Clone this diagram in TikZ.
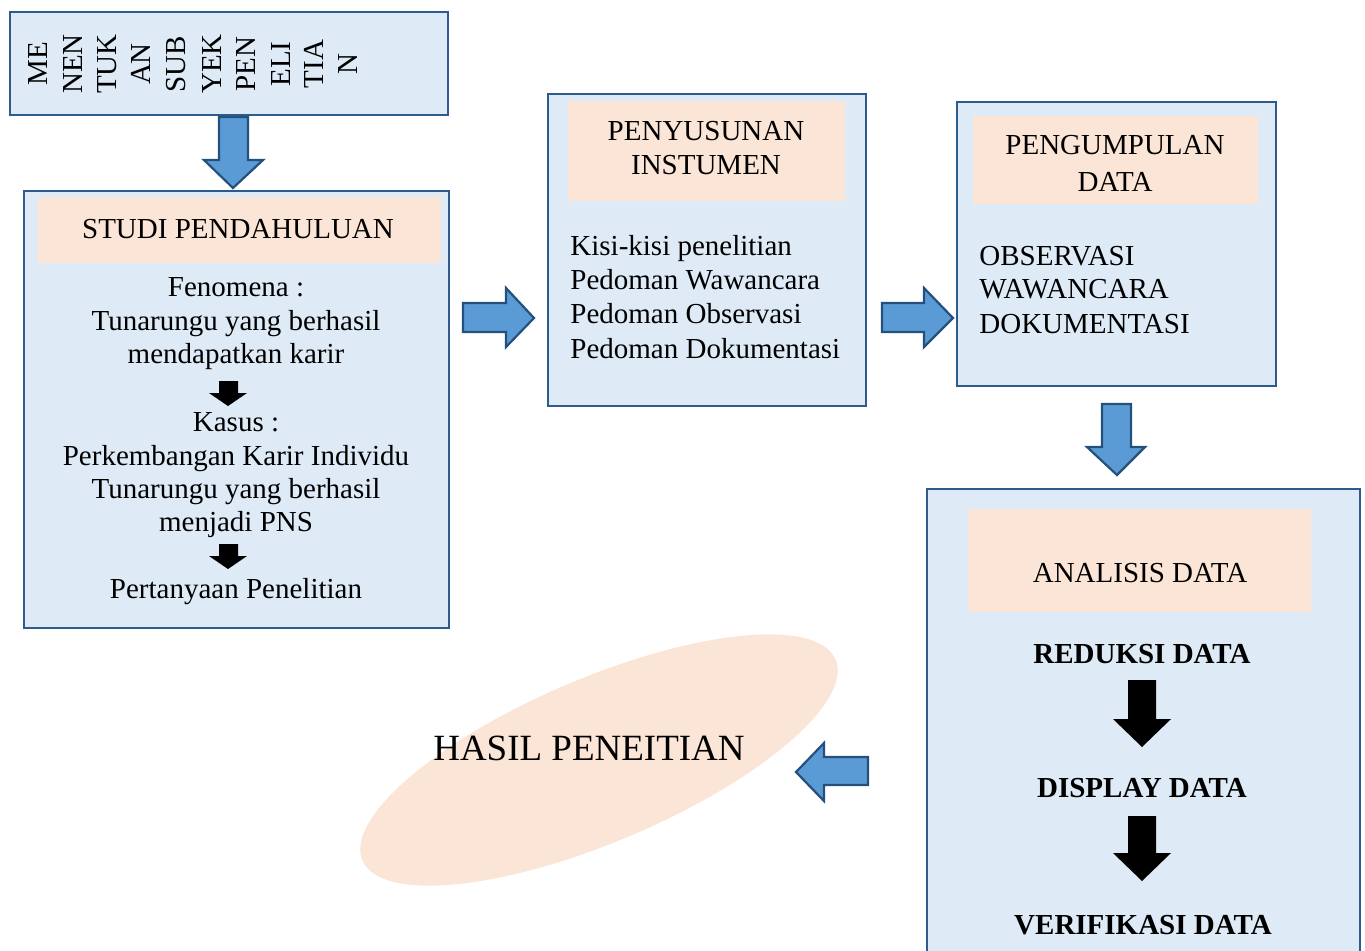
\documentclass[tikz,border=0pt]{standalone}
\usepackage{fontspec}
\setmainfont{Liberation Serif}
\usetikzlibrary{fit,shapes.geometric}
\definecolor{boxfill}{HTML}{DEEBF7}
\definecolor{boxline}{HTML}{2F5B8C}
\definecolor{peach}{HTML}{FBE5D6}
\definecolor{arrowfill}{HTML}{5B9BD5}
\definecolor{arrowline}{HTML}{24507D}
\begin{document}
\begin{tikzpicture}[x=0.5pt,y=-0.5pt,
  box/.style={draw=boxline, fill=boxfill, line width=1.1pt, inner sep=0pt},
  hdr/.style={fill=peach, inner sep=0pt},
  txt/.style={anchor=base, inner sep=0pt, font=\fontsize{14.5}{17}\selectfont},
  ltxt/.style={txt, anchor=base west},
  btxt/.style={txt, font=\fontsize{14.5}{17}\selectfont\bfseries},
  vtxt/.style={txt, rotate=90},
  blockarrow/.style={draw=arrowline, fill=arrowfill, line width=1.1pt, line join=miter},
  blackarrow/.style={fill=black}]
\useasboundingbox (0,0) rectangle (1365,950);
\clip (0,0) rectangle (1365,950);

% result ellipse
\node[ellipse, fill=peach, minimum width=257pt, minimum height=82pt, inner sep=0pt, rotate=23] (res) at (599,760) {};
\node[txt, font=\fontsize{18.5}{22}\selectfont] (restxt) at (589,760) {HASIL PENEITIAN};

% top box
\node[box, fit={(10,12) (448,115)}] (top) {};
\node[vtxt] (v1) at (47,64) {ME};
\node[vtxt] (v2) at (82,64) {NEN};
\node[vtxt] (v3) at (116,64) {TUK};
\node[vtxt] (v4) at (150,64) {AN};
\node[vtxt] (v5) at (185,64) {SUB};
\node[vtxt] (v6) at (221,64) {YEK};
\node[vtxt] (v7) at (255,64) {PEN};
\node[vtxt] (v8) at (290,64) {ELI};
\node[vtxt] (v9) at (323,64) {TIA};
\node[vtxt] (v10) at (357,64) {N};

% studi box
\node[box, fit={(24,191) (449,628)}] (studi) {};
\node[hdr, fit={(38,197) (441,263)}] (studihdr) {};
\node[txt] (s0) at (238,238) {STUDI PENDAHULUAN};
\node[txt] (s1) at (236,296) {Fenomena :};
\node[txt] (s2) at (236,330) {Tunarungu yang berhasil};
\node[txt] (s3) at (236,363) {mendapatkan karir};
\node[txt] (s4) at (236,431) {Kasus :};
\node[txt] (s5) at (236,465) {Perkembangan Karir Individu};
\node[txt] (s6) at (236,498) {Tunarungu yang berhasil};
\node[txt] (s7) at (236,531) {menjadi PNS};
\node[txt] (s8) at (236,598) {Pertanyaan Penelitian};
\fill[blackarrow] (219,381) -- (238,381) -- (238,393) -- (247,393) -- (228,406) -- (209,393) -- (219,393) -- cycle;
\fill[blackarrow] (219,544) -- (238,544) -- (238,556) -- (247,556) -- (228,569) -- (209,556) -- (219,556) -- cycle;

% penyusunan box
\node[box, fit={(548,94) (866,406)}] (peny) {};
\node[hdr, fit={(568,101) (845,201)}] (penyhdr) {};
\node[txt] (p0) at (706,140) {PENYUSUNAN};
\node[txt] (p1) at (706,174) {INSTUMEN};
\node[ltxt] (p2) at (570,255) {Kisi-kisi penelitian};
\node[ltxt] (p3) at (570,289) {Pedoman Wawancara};
\node[ltxt] (p4) at (570,323) {Pedoman Observasi};
\node[ltxt] (p5) at (570,358) {Pedoman Dokumentasi};

% pengumpulan box
\node[box, fit={(957,102) (1276,386)}] (peng) {};
\node[hdr, fit={(973,116) (1258,204)}] (penghdr) {};
\node[txt] (g0) at (1115,154) {PENGUMPULAN};
\node[txt] (g1) at (1115,191) {DATA};
\node[ltxt] (g2) at (979,265) {OBSERVASI};
\node[ltxt] (g3) at (979,298) {WAWANCARA};
\node[ltxt] (g4) at (979,333) {DOKUMENTASI};

% analisis box
\node[box, fit={(927,489) (1360,970)}] (anal) {};
\node[hdr, fit={(968,509) (1311,612)}] (analhdr) {};
\node[txt] (a0) at (1140,582) {ANALISIS DATA};
\node[btxt] (a1) at (1142,663) {REDUKSI DATA};
\node[btxt] (a2) at (1142,797) {DISPLAY DATA};
\node[btxt] (a3) at (1143,934) {VERIFIKASI DATA};
\fill[blackarrow] (1128,680) -- (1156,680) -- (1156,719) -- (1171,719) -- (1142,747) -- (1113,719) -- (1128,719) -- cycle;
\fill[blackarrow] (1128,816) -- (1156,816) -- (1156,853) -- (1171,853) -- (1142,881) -- (1113,853) -- (1128,853) -- cycle;

% blue block arrows
\draw[blockarrow] (219,117) -- (248,117) -- (248,160) -- (263,160) -- (233,188) -- (204,160) -- (219,160) -- cycle;
\draw[blockarrow] (463,303) -- (506,303) -- (506,288) -- (534,318) -- (506,347) -- (506,332) -- (463,332) -- cycle;
\draw[blockarrow] (882,303) -- (924,303) -- (924,288) -- (953,318) -- (924,347) -- (924,332) -- (882,332) -- cycle;
\draw[blockarrow] (1102,404) -- (1131,404) -- (1131,447) -- (1145,447) -- (1117,475) -- (1087,447) -- (1102,447) -- cycle;
\draw[blockarrow] (868,757) -- (824,757) -- (824,743) -- (796,772) -- (824,801) -- (824,785) -- (868,785) -- cycle;
\end{tikzpicture}
\end{document}
